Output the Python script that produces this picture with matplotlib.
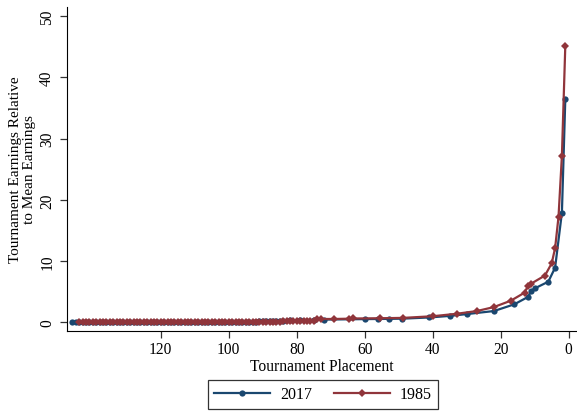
import matplotlib.pyplot as plt

plt.rcParams['font.family'] = ['Liberation Serif', 'DejaVu Serif']

# 2017 series: tail of players (dense ranks) then the paid positions
rank_2017_tail = list(range(146, 83, -1))
earn_2017_tail = [0.02, 0.02, 0.02, 0.02, 0.02, 0.02, 0.02, 0.02, 0.02, 0.02,
                  0.03, 0.03, 0.03, 0.03, 0.03, 0.03, 0.03, 0.03, 0.03, 0.03,
                  0.04, 0.04, 0.04, 0.04, 0.04, 0.04, 0.04, 0.04, 0.04, 0.04,
                  0.05, 0.05, 0.05, 0.05, 0.05, 0.05, 0.05, 0.05, 0.05, 0.05,
                  0.06, 0.06, 0.06, 0.06, 0.06, 0.06, 0.06, 0.06, 0.06, 0.06,
                  0.08, 0.08, 0.08, 0.08, 0.08, 0.10, 0.10, 0.10, 0.12, 0.12,
                  0.14, 0.16, 0.18]
rank_2017_top = [82, 79, 75, 72, 60, 56, 53, 49, 41, 35, 30, 22, 16, 12, 11, 10, 6, 4, 2, 1]
earn_2017_top = [0.30, 0.33, 0.36, 0.40, 0.48, 0.50, 0.52, 0.55, 0.75, 1.0, 1.3, 1.8,
                 2.9, 4.1, 5.1, 5.5, 6.6, 8.9, 17.9, 36.5]

# 1985 series
rank_1985_tail = list(range(144, 74, -1))
earn_1985_tail = [0.03, 0.03, 0.03, 0.03, 0.03, 0.03, 0.03, 0.03, 0.03, 0.03,
                  0.04, 0.04, 0.04, 0.04, 0.04, 0.04, 0.04, 0.04, 0.04, 0.04,
                  0.05, 0.05, 0.05, 0.05, 0.05, 0.05, 0.05, 0.05, 0.05, 0.05,
                  0.06, 0.06, 0.06, 0.06, 0.06, 0.06, 0.06, 0.06, 0.06, 0.06,
                  0.07, 0.07, 0.07, 0.07, 0.07, 0.07, 0.07, 0.07, 0.07, 0.07,
                  0.08, 0.08, 0.08, 0.08, 0.08, 0.08, 0.08, 0.08, 0.08, 0.08,
                  0.09, 0.09, 0.09, 0.10, 0.10, 0.11, 0.12, 0.13, 0.14, 0.15]
rank_1985_top = [74, 73, 69, 64.5, 63.5, 55.5, 48.7, 40, 33, 27, 22, 17, 13, 12, 11, 7, 5, 4, 3, 2, 1]
earn_1985_top = [0.45, 0.50, 0.50, 0.55, 0.58, 0.62, 0.68, 0.95, 1.35, 1.8, 2.45, 3.5,
                 4.8, 5.9, 6.3, 7.6, 9.6, 12.1, 17.2, 27.2, 45.2]

rank_2017 = rank_2017_tail + rank_2017_top
earn_2017 = earn_2017_tail + earn_2017_top
rank_1985 = rank_1985_tail + rank_1985_top
earn_1985 = earn_1985_tail + earn_1985_top

blue = '#1a476f'
red = '#90353b'

fig = plt.figure(figsize=(5.77, 4.14), dpi=100)
ax = fig.add_axes([0.116, 0.198, 0.882, 0.783])

ax.plot(rank_2017, earn_2017, color=blue, lw=1.6, marker='o', ms=4.5, mew=0, label='2017')
ax.plot(rank_1985, earn_1985, color=red, lw=1.6, marker='D', ms=4.5, mew=0, label='1985')

ax.set_xlim(147.6, -2.1)
ax.set_ylim(-1.47, 51.55)
ax.set_xticks([120, 100, 80, 60, 40, 20, 0])
ax.set_yticks([0, 10, 20, 30, 40, 50])
for s in ['top', 'right']:
    ax.spines[s].set_visible(False)
ax.tick_params(labelsize=11.2, length=5, width=0.9, colors='#333333', labelcolor='black')
ax.tick_params(axis='x', pad=2.5)
plt.setp(ax.get_yticklabels(), rotation=90, va='center')
ax.set_xlabel('Tournament Placement', fontsize=11.2, labelpad=0.5)
ax.set_ylabel('Tournament Earnings Relative\nto Mean Earnings', fontsize=11, labelpad=2,
              linespacing=1.15)

leg = fig.legend(loc='lower center', bbox_to_anchor=(0.56, 0.01), ncol=2, fontsize=11.5,
                 frameon=True, fancybox=False, edgecolor='black', handlelength=3.5,
                 handletextpad=0.6, columnspacing=1.4, borderpad=0.4, borderaxespad=0)
leg.get_frame().set_linewidth(0.9)

fig.savefig('out.png', dpi=100)
